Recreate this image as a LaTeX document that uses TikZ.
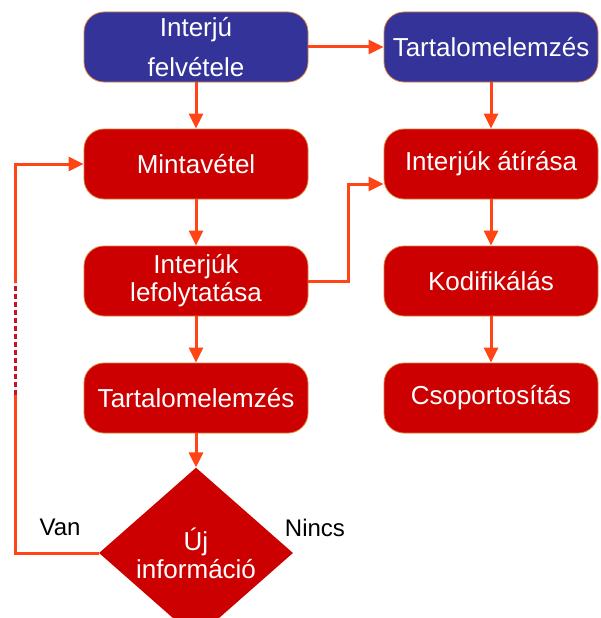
\documentclass[tikz,border=0pt]{standalone}
\usepackage{fontspec}
\setmainfont{Liberation Sans}
\usetikzlibrary{shapes.geometric,arrows.meta}

\definecolor{boxblue}{HTML}{333399}
\definecolor{boxred}{HTML}{CC0000}
\definecolor{edgeorange}{HTML}{D9823A}
\definecolor{arrowred}{HTML}{FF4516}
\definecolor{dashred}{HTML}{C8102E}

\tikzset{
  box/.style={draw=edgeorange, line width=0.8pt, rounded corners=20pt,
    minimum height=70pt, text=white, align=center,
    font=\fontsize{26}{28}\selectfont},
  redbox/.style={box, fill=boxred},
  bluebox/.style={box, fill=boxblue},
  decision/.style={diamond, fill=boxred, inner sep=0pt, minimum width=194pt,
    minimum height=136pt, text=white, align=center,
    font=\fontsize{26}{28}\selectfont},
  line/.style={draw=arrowred, line width=3pt},
  flow/.style={line, -{Triangle[length=15pt,width=14pt]}},
  answer/.style={font=\fontsize{24}{26}\selectfont}
}

\begin{document}
\begin{tikzpicture}[x=1pt,y=1pt,node distance=117pt]
    \useasboundingbox (0,0) rectangle (601,-618);
    % left column
    \node[bluebox, minimum width=224pt, font=\fontsize{26}{40}\selectfont] (felvetel) at (196,-47) {Interjú\\felvétele};
    \node[redbox, minimum width=224pt] [below of=felvetel] (mintavetel) {Mintavétel};
    \node[redbox, minimum width=224pt] [below of=mintavetel] (lefolytatas) {Interjúk\\lefolytatása};
    \node[redbox, minimum width=224pt] [below of=lefolytatas] (tartalomL) {Tartalomelemzés};
    \node[decision] [below of=tartalomL, node distance=155pt] (ujinfo) {Új\\információ};
    % right column
    \node[bluebox, minimum width=214pt] (tartalomR) at (491,-47) {Tartalomelemzés};
    \node[redbox, minimum width=214pt] [below of=tartalomR] (atiras) {Interjúk átírása};
    \node[redbox, minimum width=214pt] [below of=atiras] (kodif) {Kodifikálás};
    \node[redbox, minimum width=214pt] [below of=kodif] (csoport) {Csoportosítás};
    % answers
    \node[answer] (van) at (60,-527) {Van};
    \node[answer] (nincs) at (315,-528) {Nincs};
    % loop back
    \coordinate (vanA) at (15,-395);
    \coordinate (vanB) at (15,-283);

    \draw[flow] (felvetel) -- (mintavetel);
    \draw[flow] (mintavetel) -- (lefolytatas);
    \draw[flow] (lefolytatas) -- (tartalomL);
    \draw[flow] (tartalomL) -- (ujinfo);
    \draw[flow] (felvetel) -- (tartalomR);
    \draw[flow] (tartalomR) -- (atiras);
    \draw[flow] (atiras) -- (kodif);
    \draw[flow] (kodif) -- (csoport);
    \draw[flow] (lefolytatas.east) -- ++(40,0) |- ([yshift=-20pt]atiras.west);
    \draw[line] (ujinfo.west) -| (vanA);
    \draw[dashred, line width=3pt, dash pattern=on 5pt off 3pt] (vanA) -- (vanB);
    \draw[flow] (vanB) |- (mintavetel.west);
\end{tikzpicture}
\end{document}
